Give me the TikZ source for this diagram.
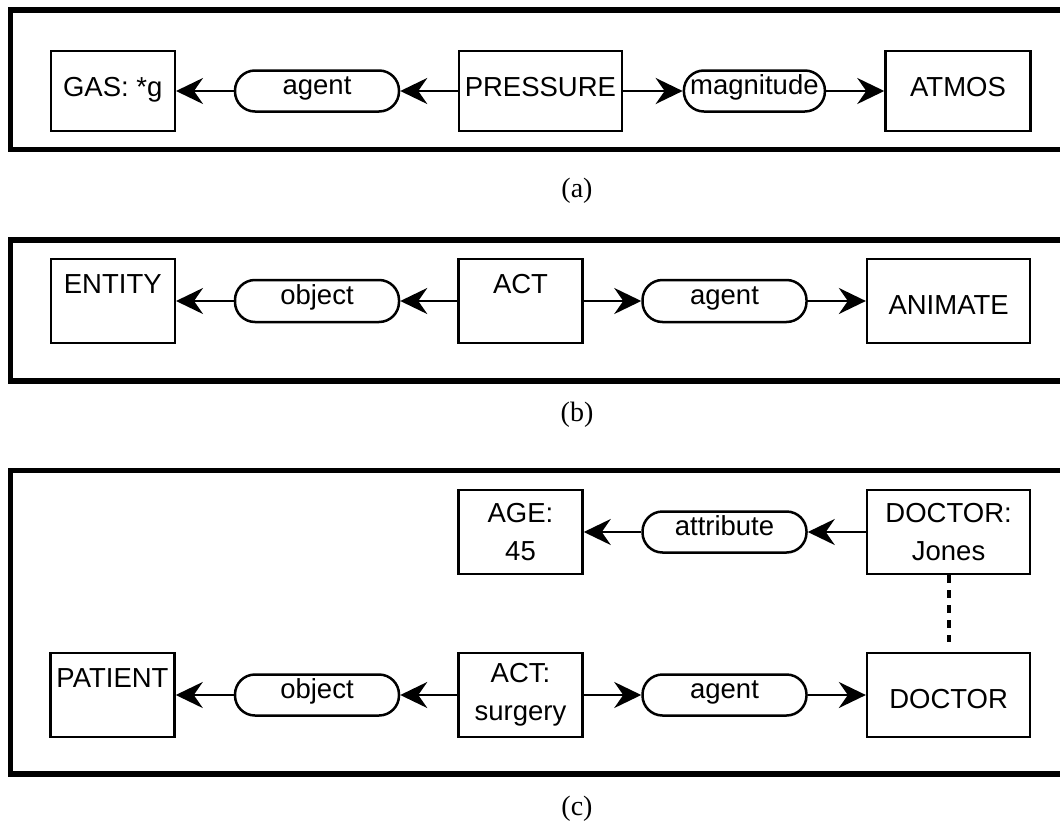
\documentclass[tikz,border=0pt]{standalone}
\usepackage{fontspec}
\setmainfont{Liberation Sans}
\newfontfamily\captionserif{Liberation Serif}
\usetikzlibrary{arrows.meta}

\tikzset{
  panelframe/.style={line width=5.5pt, line join=miter},
  concept/.style={draw, line width=2.5pt, inner sep=0pt,
    minimum height=84pt, font=\fontsize{27.5pt}{38pt}\selectfont, align=center},
  midtext/.style={text height=20pt, text depth=10pt},
  toptext/.style={text height=20pt, text depth=35pt},
  lowtext/.style={text height=32pt, text depth=6pt},
  relation/.style={draw, line width=2.5pt, inner sep=0pt, rounded corners=20pt,
    minimum height=41pt, minimum width=164pt,
    font=\fontsize{27.5pt}{38pt}\selectfont, text height=19pt, text depth=12pt},
  link/.style={line width=2.6pt, -{Stealth[length=27pt,width=26pt,inset=9pt]}},
  coref/.style={line width=4pt, dash pattern=on 8pt off 7pt},
  caption/.style={font=\captionserif\fontsize{28pt}{30pt}\selectfont, anchor=base}
}

\begin{document}
\begin{tikzpicture}[x=1pt, y=-1pt]
\useasboundingbox (0,0) rectangle (1060,827);
\clip (0,0) rectangle (1060,827);

% ---------- (a) ----------
\draw[panelframe] (1075,10) -- (10.5,10) -- (10.5,149.5) -- (1075,149.5);
\node[concept, midtext, minimum width=124pt, minimum height=80pt] (gas) at (112.75,91) {GAS: *g};
\node[relation] (agentA) at (317,91) {agent};
\node[concept, midtext, minimum width=163pt, minimum height=80pt] (press) at (540.4,91) {PRESSURE};
\node[relation, minimum width=141pt] (magn) at (754.4,91) {magnitude};
\node[concept, midtext, minimum width=145pt, minimum height=80pt] (atmos) at (958,91) {ATMOS};
\draw[link] (press) -- (agentA);
\draw[link] (agentA) -- (gas);
\draw[link] (press) -- (magn);
\draw[link] (magn) -- (atmos);
\node[caption] (capA) at (577,197) {(a)};

% ---------- (b) ----------
\draw[panelframe] (1075,240) -- (10.5,240) -- (10.5,381) -- (1075,381);
\node[concept, toptext, minimum width=124pt] (entity) at (112.75,301) {ENTITY};
\node[relation, minimum height=42pt] (objB) at (317,301) {object};
\node[concept, toptext, minimum width=124pt] (actB) at (520.5,301) {ACT};
\node[relation, minimum height=42pt] (agentB) at (724.5,301) {agent};
\node[concept, lowtext, minimum width=163pt] (animate) at (948.6,301) {ANIMATE};
\draw[link] (actB) -- (objB);
\draw[link] (objB) -- (entity);
\draw[link] (actB) -- (agentB);
\draw[link] (agentB) -- (animate);
\node[caption] (capB) at (577,421) {(b)};

% ---------- (c) ----------
\draw[panelframe] (1075,470.5) -- (10.5,470.5) -- (10.5,774) -- (1075,774);
\node[concept, minimum width=124pt] (age) at (520.5,532) {AGE:\\45};
\node[relation] (attr) at (724.5,532) {attribute};
\node[concept, minimum width=163pt] (jones) at (948.6,532) {DOCTOR:\\Jones};
\node[concept, toptext, minimum width=124pt] (patient) at (112.5,695) {PATIENT};
\node[relation] (objC) at (317,695) {object};
\node[concept, minimum width=124pt] (actC) at (520.5,695) {ACT:\\surgery};
\node[relation] (agentC) at (724.5,695) {agent};
\node[concept, lowtext, minimum width=163pt] (doctor) at (948.6,695) {DOCTOR};
\draw[link] (jones) -- (attr);
\draw[link] (attr) -- (age);
\draw[link] (actC) -- (objC);
\draw[link] (objC) -- (patient);
\draw[link] (actC) -- (agentC);
\draw[link] (agentC) -- (doctor);
\draw[coref, shorten >=10pt] (jones.south) -- (doctor.north);
\node[caption] (capC) at (577,815) {(c)};
\end{tikzpicture}
\end{document}
